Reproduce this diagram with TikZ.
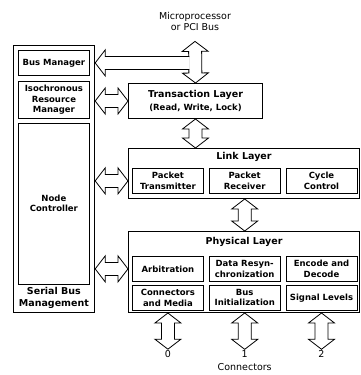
\documentclass[tikz,border=0pt]{standalone}
\usepackage{fontspec}
\setmainfont{DejaVu Sans}
\usetikzlibrary{positioning, calc}
\tikzset{
  frame/.style={rectangle, draw=black, line width=1pt, anchor=north west, inner sep=0pt},
  mgr/.style={rectangle, draw=black, line width=0.8pt, minimum width=71pt, anchor=north west,
              inner sep=0pt, align=center, font=\bfseries\fontsize{8.5}{10.5}\selectfont},
  unit/.style={rectangle, draw=black, line width=0.8pt, minimum width=71pt, minimum height=25pt,
               inner sep=0pt, align=center, font=\bfseries\fontsize{8.5}{10.5}\selectfont},
  title/.style={inner sep=1pt, align=center, font=\bfseries\fontsize{9.5}{11}\selectfont},
  plain/.style={inner sep=1pt, align=center, font=\fontsize{9.5}{11}\selectfont},
  fat/.style={draw=black, fill=white, line width=0.8pt, to path={
    -- ($(\tikztostart)!10pt!(\tikztotarget)!13pt!90:(\tikztotarget)$)
    -- ($(\tikztostart)!10pt!(\tikztotarget)!6.5pt!90:(\tikztotarget)$)
    -- ($(\tikztotarget)!10pt!(\tikztostart)!6.5pt!-90:(\tikztostart)$)
    -- ($(\tikztotarget)!10pt!(\tikztostart)!13pt!-90:(\tikztostart)$)
    -- (\tikztotarget)
    -- ($(\tikztotarget)!10pt!(\tikztostart)!13pt!90:(\tikztostart)$)
    -- ($(\tikztotarget)!10pt!(\tikztostart)!6.5pt!90:(\tikztostart)$)
    -- ($(\tikztostart)!10pt!(\tikztotarget)!6.5pt!-90:(\tikztotarget)$)
    -- ($(\tikztostart)!10pt!(\tikztotarget)!13pt!-90:(\tikztotarget)$)
    -- cycle}},
  fatone/.style={draw=black, fill=white, line width=0.8pt, to path={
    ($(\tikztotarget)!6.5pt!-90:(\tikztostart)$)
    -- ($(\tikztostart)!10pt!(\tikztotarget)!6.5pt!90:(\tikztotarget)$)
    -- ($(\tikztostart)!10pt!(\tikztotarget)!13pt!90:(\tikztotarget)$)
    -- (\tikztostart)
    -- ($(\tikztostart)!10pt!(\tikztotarget)!13pt!-90:(\tikztotarget)$)
    -- ($(\tikztostart)!10pt!(\tikztotarget)!6.5pt!-90:(\tikztotarget)$)
    -- ($(\tikztotarget)!6.5pt!90:(\tikztostart)$)}}
}

\begin{document}
\begin{tikzpicture}[x=1pt, y=-1pt]
  \useasboundingbox (0,0) rectangle (360,375);
  % serial bus management column
  \node[frame, line width=1.2pt, minimum width=81pt, minimum height=267pt] (sbm) at (13,45) {};
  \node[mgr, minimum height=25pt] (busmgr) at (18,50) {Bus Manager};
  \node[mgr, minimum height=37pt, below=5pt of busmgr] (iso) {Isochronous\\Resource\\Manager};
  \node[mgr, minimum height=161pt, below=4pt of iso] (nodectl) {Node\\Controller};
  \node[title, font=\bfseries\fontsize{9.5}{12}\selectfont, below=2pt of nodectl] (sbmlbl) {Serial Bus\\Management};

  % layers
  \node[frame, minimum width=134pt, minimum height=35pt, align=center,
        font=\bfseries\fontsize{9.5}{12.5}\selectfont] (trans) at (128,83)
        {Transaction Layer\\{\fontsize{8.5}{10}\selectfont (Read, Write, Lock)}};

  \node[frame, minimum width=231pt, minimum height=50pt] (link) at (128,148) {};
  \node[title, below=3pt of link.north] (linkttl) {Link Layer};
  \node[unit, anchor=north west] (ptx) at (132,168) {Packet\\Transmitter};
  \node[unit, right=5pt of ptx] (prx) {Packet\\Receiver};
  \node[unit, right=5pt of prx] (cyc) {Cycle\\Control};

  \node[frame, minimum width=231pt, minimum height=81pt] (phy) at (128,231) {};
  \node[title, below=5pt of phy.north] (phyttl) {Physical Layer};
  \node[unit, anchor=north west] (arb) at (132,256) {Arbitration};
  \node[unit, right=5pt of arb] (resync) {Data Resyn-\\chronization};
  \node[unit, right=5pt of resync] (enc) {Encode and\\Decode};
  \node[unit, below=3pt of arb] (cnm) {Connectors\\and Media};
  \node[unit, below=3pt of resync] (businit) {Bus\\Initialization};
  \node[unit, below=3pt of enc] (sig) {Signal Levels};

  % bus and connector labels
  \node[plain] (cpu) at (195,21) {Microprocessor\\or PCI Bus};
  \coordinate[below=10pt of cpu] (bus);
  \coordinate (junc) at ($(trans.north |- busmgr.east)+(-6.1,0)$);
  \node[plain] (p0) at (cnm.south |- 0,354) {0};
  \node[plain] (p1) at (businit.south |- 0,354) {1};
  \node[plain] (p2) at (sig.south |- 0,354) {2};
  \node[plain, below=4pt of p1] (conn) {Connectors};

  % block arrows
  \draw[fat] (bus) to (trans.north);
  \draw[fatone] (sbm.east |- busmgr.east) to (junc);
  \draw[fat] (sbm.east |- trans.west) to (trans.west);
  \draw[fat] (sbm.east |- ptx.west) to (ptx.west -| link.west);
  \draw[fat] (sbm.east |- arb.west) to (arb.west -| phy.west);
  \draw[fat] (trans.south) to (trans.south |- link.north);
  \draw[fat] (prx.south |- link.south) to (prx.south |- phy.north);
  \draw[fat] (cnm.south |- phy.south) to (p0.north);
  \draw[fat] (businit.south |- phy.south) to (p1.north);
  \draw[fat] (sig.south |- phy.south) to (p2.north);
\end{tikzpicture}
\end{document}
